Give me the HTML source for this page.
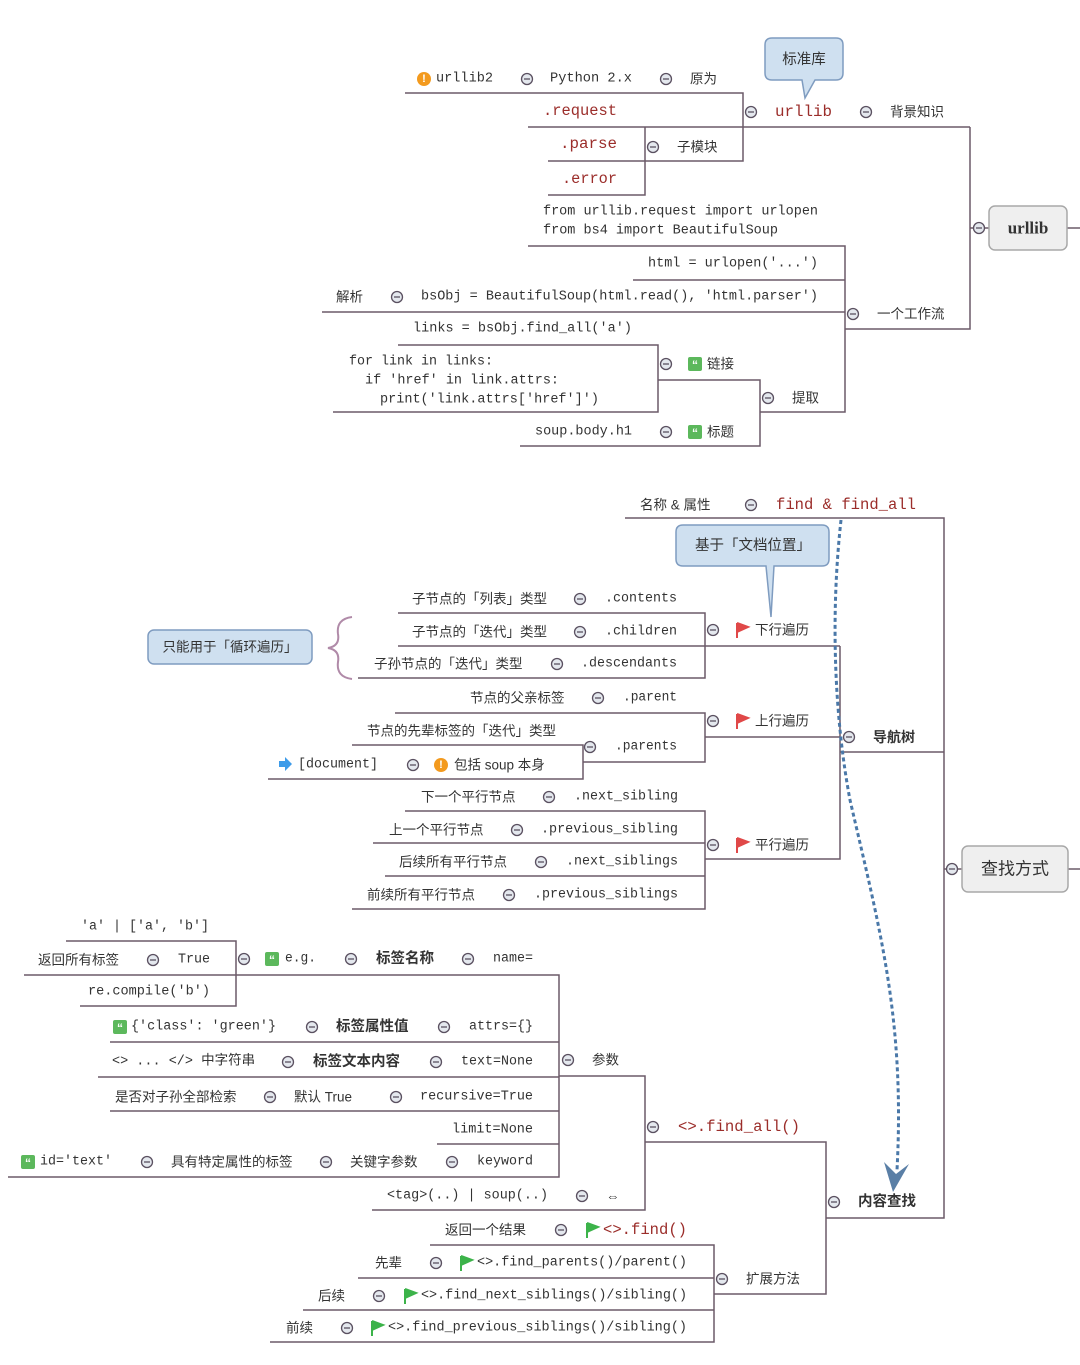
<!DOCTYPE html>
<html><head><meta charset="utf-8"><style>
html,body{margin:0;padding:0;background:#fff;}
svg{display:block}
text{font-family:"Liberation Sans","Noto Sans CJK SC",sans-serif;font-size:13.5px;fill:#333;dominant-baseline:central}
.m{font-family:"Liberation Mono","Noto Sans CJK SC",monospace;font-size:13.5px}
.r{font-family:"Liberation Mono",monospace;font-size:15.5px;fill:#9b2d2a}
.b{font-weight:bold;font-size:14.5px}
.ln{fill:none;stroke:#6b5a68;stroke-width:1.5}
</style></head><body>
<svg width="1080" height="1365" viewBox="0 0 1080 1365" xmlns="http://www.w3.org/2000/svg">
<defs>
<g id="c"><circle r="5.5" fill="#e4e8ee" stroke="#5a5060" stroke-width="1.3"/><line x1="-3" x2="3" y1="0" y2="0" stroke="#5a5060" stroke-width="1.3"/></g>
<g id="q"><rect x="-7" y="-7" width="14" height="14" rx="2" fill="#5cb85c"/><text x="0" y="1" text-anchor="middle" style="fill:#fff;font-size:12px;font-weight:bold">“</text></g>
<g id="fr"><path d="M-5,-7 L-5,8 M-5,-7 L6,-3 L-5,2" fill="#e04848" stroke="#e04848" stroke-width="2"/></g>
<g id="fg"><path d="M-5,-7 L-5,8 M-5,-7 L6,-3 L-5,2" fill="#3cb34a" stroke="#3cb34a" stroke-width="2"/></g>
<g id="ex"><circle r="7" fill="#f39a1e"/><text x="0" y="0" text-anchor="middle" style="fill:#fff;font-size:11px;font-weight:bold">!</text></g>
</defs>

<!-- lines top -->
<g class="ln">
<polyline points="405,93 743,93 743,161 645,161"/>
<line x1="528" y1="127" x2="970" y2="127"/>
<polyline points="548,161 645,161"/>
<polyline points="645,127 645,195 548,195"/>
<polyline points="970,127 970,329 845,329"/>
<line x1="970" y1="228" x2="989" y2="228"/>
<line x1="1067" y1="228" x2="1080" y2="228"/>
<polyline points="528,246 845,246 845,412 760,412"/>
<line x1="633" y1="280" x2="845" y2="280"/>
<line x1="322" y1="312" x2="845" y2="312"/>
<polyline points="398,345 658,345 658,412 333,412"/>
<polyline points="658,380 760,380 760,446 520,446"/>
<!-- middle -->
<polyline points="625,518 944,518 944,1218 826,1218"/>
<line x1="944" y1="869" x2="962" y2="869"/>
<line x1="1068" y1="869" x2="1080" y2="869"/>
<polyline points="398,613 705,613 705,678 358,678"/>
<line x1="398" y1="646" x2="840" y2="646"/>
<polyline points="840,646 840,859 705,859"/>
<line x1="840" y1="752" x2="944" y2="752"/>
<polyline points="395,713 705,713 705,762 583,762"/>
<line x1="705" y1="737" x2="840" y2="737"/>
<polyline points="352,745 583,745 583,779 268,779"/>
<polyline points="405,811 705,811 705,909 352,909"/>
<line x1="373" y1="843" x2="705" y2="843"/>
<line x1="385" y1="876" x2="705" y2="876"/>
<!-- bottom -->
<polyline points="66,941 236,941 236,1006 80,1006"/>
<polyline points="24,975 559,975 559,1177 8,1177"/>
<line x1="110" y1="1042" x2="559" y2="1042"/>
<line x1="98" y1="1077" x2="559" y2="1077"/>
<line x1="110" y1="1111" x2="559" y2="1111"/>
<line x1="437" y1="1144" x2="559" y2="1144"/>
<polyline points="559,1076 645,1076 645,1210 372,1210"/>
<polyline points="645,1142 826,1142 826,1294 714,1294"/>
<polyline points="430,1245 714,1245 714,1342 270,1342"/>
<line x1="358" y1="1278" x2="714" y2="1278"/>
<line x1="303" y1="1310" x2="714" y2="1310"/>
</g>

<!-- dotted arrow -->
<path d="M841,520 C830,620 835,720 850,800 C880,930 905,1020 897,1170" fill="none" stroke="#4a78a8" stroke-width="3" stroke-dasharray="4,3"/>
<path d="M884,1162 L893,1192 L909,1164 L896,1174 Z" fill="#5a7fa6"/>

<!-- callouts -->
<path d="M772,38 H836 Q843,38 843,45 V73 Q843,80 836,80 H815 L805,98 L802,80 H772 Q765,80 765,73 V45 Q765,38 772,38 Z" fill="#cfe0f0" stroke="#7f9cc0" stroke-width="1.5"/>
<text x="804" y="60" text-anchor="middle" style="font-size:14.5px">标准库</text>
<path d="M683,525 H822 Q829,525 829,532 V559 Q829,566 822,566 H774 L771,617 L766,566 H683 Q676,566 676,559 V532 Q676,525 683,525 Z" fill="#cfe0f0" stroke="#7f9cc0" stroke-width="1.5"/>
<text x="753" y="546" text-anchor="middle" style="font-size:14.5px">基于「文档位置」</text>
<rect x="148" y="630" width="164" height="34" rx="6" fill="#cfe0f0" stroke="#7f9cc0" stroke-width="1.5"/>
<text x="230" y="647" text-anchor="middle" style="font-size:13.5px">只能用于「循环遍历」</text>
<path d="M352,617 Q336,619 338,634 Q340,646 328,648 Q340,650 338,662 Q336,677 352,679" fill="none" stroke="#b08aa8" stroke-width="2"/>
<!-- boxes -->
<rect x="989" y="206" width="78" height="44" rx="6" fill="#efefef" stroke="#a8a8a8" stroke-width="1.5"/>
<text x="1028" y="228" text-anchor="middle" style="font-family:'Liberation Serif',serif;font-weight:bold;font-size:17px">urllib</text>
<rect x="962" y="846" width="106" height="46" rx="6" fill="#efefef" stroke="#a8a8a8" stroke-width="1.5"/>
<text x="1015" y="869" text-anchor="middle" style="font-size:17px">查找方式</text>

<!-- top texts -->
<use href="#ex" x="424" y="79"/>
<text class="m" x="436" y="79" textLength="57" lengthAdjust="spacingAndGlyphs">urllib2</text>
<use href="#c" x="527" y="79"/>
<text class="m" x="550" y="79" textLength="82" lengthAdjust="spacingAndGlyphs">Python 2.x</text>
<use href="#c" x="666" y="79"/>
<text x="690" y="79">原为</text>
<text class="r" x="543" y="111" textLength="74" lengthAdjust="spacingAndGlyphs">.request</text>
<text class="r" x="560" y="144" textLength="57" lengthAdjust="spacingAndGlyphs">.parse</text>
<text class="r" x="562" y="179" textLength="55" lengthAdjust="spacingAndGlyphs">.error</text>
<use href="#c" x="653" y="147"/>
<text x="677" y="147">子模块</text>
<use href="#c" x="751" y="112"/>
<text class="r" x="775" y="112" textLength="57" lengthAdjust="spacingAndGlyphs">urllib</text>
<use href="#c" x="866" y="112"/>
<text x="890" y="112">背景知识</text>
<use href="#c" x="979" y="228"/>
<text class="m" x="543" y="212" textLength="275" lengthAdjust="spacingAndGlyphs">from urllib.request import urlopen</text>
<text class="m" x="543" y="231" textLength="235" lengthAdjust="spacingAndGlyphs">from bs4 import BeautifulSoup</text>
<text class="m" x="648" y="264" textLength="170" lengthAdjust="spacingAndGlyphs">html = urlopen('...')</text>
<text x="336" y="297">解析</text>
<use href="#c" x="397" y="297"/>
<text class="m" x="421" y="297" textLength="397" lengthAdjust="spacingAndGlyphs">bsObj = BeautifulSoup(html.read(), 'html.parser')</text>
<use href="#c" x="853" y="314"/>
<text x="877" y="314">一个工作流</text>
<text class="m" x="413" y="329" textLength="219" lengthAdjust="spacingAndGlyphs">links = bsObj.find_all('a')</text>
<text class="m" x="349" y="362" textLength="144" lengthAdjust="spacingAndGlyphs">for link in links:</text>
<text class="m" x="365" y="381" textLength="194" lengthAdjust="spacingAndGlyphs">if 'href' in link.attrs:</text>
<text class="m" x="380" y="400" textLength="219" lengthAdjust="spacingAndGlyphs">print('link.attrs['href']')</text>
<use href="#c" x="666" y="364"/>
<use href="#q" x="695" y="364"/>
<text x="707" y="364">链接</text>
<use href="#c" x="768" y="398"/>
<text x="792" y="398">提取</text>
<text class="m" x="535" y="432" textLength="97" lengthAdjust="spacingAndGlyphs">soup.body.h1</text>
<use href="#c" x="666" y="432"/>
<use href="#q" x="695" y="432"/>
<text x="707" y="432">标题</text>

<!-- middle texts -->
<text x="640" y="505">名称 &amp; 属性</text>
<use href="#c" x="751" y="505"/>
<text class="r" x="776" y="505" textLength="140" lengthAdjust="spacingAndGlyphs">find &amp; find_all</text>
<use href="#c" x="952" y="869"/>
<text x="412" y="599">子节点的「列表」类型</text>
<use href="#c" x="580" y="599"/>
<text class="m" x="605" y="599" textLength="72" lengthAdjust="spacingAndGlyphs">.contents</text>
<text x="412" y="632">子节点的「迭代」类型</text>
<use href="#c" x="580" y="632"/>
<text class="m" x="605" y="632" textLength="72" lengthAdjust="spacingAndGlyphs">.children</text>
<text x="374" y="664">子孙节点的「迭代」类型</text>
<use href="#c" x="557" y="664"/>
<text class="m" x="581" y="664" textLength="96" lengthAdjust="spacingAndGlyphs">.descendants</text>
<use href="#c" x="713" y="630"/>
<use href="#fr" x="742" y="630"/>
<text x="755" y="630">下行遍历</text>
<use href="#c" x="849" y="737"/>
<text x="873" y="737" class="b" style="font-size:14px">导航树</text>
<text x="470" y="698">节点的父亲标签</text>
<use href="#c" x="598" y="698"/>
<text class="m" x="623" y="698" textLength="54" lengthAdjust="spacingAndGlyphs">.parent</text>
<use href="#c" x="713" y="721"/>
<use href="#fr" x="742" y="721"/>
<text x="755" y="721">上行遍历</text>
<text x="367" y="731">节点的先辈标签的「迭代」类型</text>
<use href="#c" x="590" y="747"/>
<text class="m" x="615" y="747" textLength="62" lengthAdjust="spacingAndGlyphs">.parents</text>
<path d="M279,761 h6 v-4 l7,7 l-7,7 v-4 h-6 z" fill="#3d9be9"/>
<text class="m" x="298" y="765" textLength="80" lengthAdjust="spacingAndGlyphs">[document]</text>
<use href="#c" x="413" y="765"/>
<use href="#ex" x="441" y="765"/>
<text x="454" y="765">包括 soup 本身</text>
<text x="421" y="797">下一个平行节点</text>
<use href="#c" x="549" y="797"/>
<text class="m" x="574" y="797" textLength="104" lengthAdjust="spacingAndGlyphs">.next_sibling</text>
<text x="389" y="830">上一个平行节点</text>
<use href="#c" x="517" y="830"/>
<text class="m" x="541" y="830" textLength="137" lengthAdjust="spacingAndGlyphs">.previous_sibling</text>
<use href="#c" x="713" y="845"/>
<use href="#fr" x="742" y="845"/>
<text x="755" y="845">平行遍历</text>
<text x="399" y="862">后续所有平行节点</text>
<use href="#c" x="541" y="862"/>
<text class="m" x="566" y="862" textLength="112" lengthAdjust="spacingAndGlyphs">.next_siblings</text>
<text x="367" y="895">前续所有平行节点</text>
<use href="#c" x="509" y="895"/>
<text class="m" x="534" y="895" textLength="144" lengthAdjust="spacingAndGlyphs">.previous_siblings</text>

<!-- bottom texts -->
<text class="m" x="81" y="927" textLength="128" lengthAdjust="spacingAndGlyphs">'a' | ['a', 'b']</text>
<text x="38" y="960">返回所有标签</text>
<use href="#c" x="153" y="960"/>
<text class="m" x="178" y="960" textLength="32" lengthAdjust="spacingAndGlyphs">True</text>
<text class="m" x="88" y="992" textLength="122" lengthAdjust="spacingAndGlyphs">re.compile('b')</text>
<use href="#c" x="244" y="959"/>
<use href="#q" x="272" y="959"/>
<text class="m" x="285" y="959" textLength="31" lengthAdjust="spacingAndGlyphs">e.g.</text>
<use href="#c" x="351" y="959"/>
<text class="b" x="376" y="959">标签名称</text>
<use href="#c" x="468" y="959"/>
<text class="m" x="493" y="959" textLength="40" lengthAdjust="spacingAndGlyphs">name=</text>
<use href="#q" x="120" y="1027"/>
<text class="m" x="131" y="1027" textLength="145" lengthAdjust="spacingAndGlyphs">{'class': 'green'}</text>
<use href="#c" x="312" y="1027"/>
<text class="b" x="336" y="1027">标签属性值</text>
<use href="#c" x="444" y="1027"/>
<text class="m" x="469" y="1027" textLength="64" lengthAdjust="spacingAndGlyphs">attrs={}</text>
<text class="m" x="112" y="1062">&lt;&gt; ... &lt;/&gt; 中字符串</text>
<use href="#c" x="288" y="1062"/>
<text class="b" x="313" y="1062">标签文本内容</text>
<use href="#c" x="436" y="1062"/>
<text class="m" x="461" y="1062" textLength="72" lengthAdjust="spacingAndGlyphs">text=None</text>
<use href="#c" x="568" y="1060"/>
<text x="592" y="1060">参数</text>
<text x="115" y="1097">是否对子孙全部检索</text>
<use href="#c" x="270" y="1097"/>
<text x="294" y="1097">默认 True</text>
<use href="#c" x="396" y="1097"/>
<text class="m" x="420" y="1097" textLength="113" lengthAdjust="spacingAndGlyphs">recursive=True</text>
<text class="m" x="452" y="1130" textLength="81" lengthAdjust="spacingAndGlyphs">limit=None</text>
<use href="#c" x="653" y="1127"/>
<text class="r" x="678" y="1127" textLength="122" lengthAdjust="spacingAndGlyphs">&lt;&gt;.find_all()</text>
<use href="#q" x="28" y="1162"/>
<text class="m" x="40" y="1162" textLength="72" lengthAdjust="spacingAndGlyphs">id='text'</text>
<use href="#c" x="147" y="1162"/>
<text x="171" y="1162">具有特定属性的标签</text>
<use href="#c" x="326" y="1162"/>
<text x="350" y="1162">关键字参数</text>
<use href="#c" x="452" y="1162"/>
<text class="m" x="477" y="1162" textLength="56" lengthAdjust="spacingAndGlyphs">keyword</text>
<text class="m" x="387" y="1196" textLength="161" lengthAdjust="spacingAndGlyphs">&lt;tag&gt;(..) | soup(..)</text>
<use href="#c" x="582" y="1196"/>
<text x="606" y="1196">⇔</text>
<use href="#c" x="834" y="1202"/>
<text class="b" x="858" y="1202">内容查找</text>
<text x="445" y="1230">返回一个结果</text>
<use href="#c" x="561" y="1230"/>
<use href="#fg" x="592" y="1230"/>
<text class="r" x="603" y="1230" textLength="84" lengthAdjust="spacingAndGlyphs">&lt;&gt;.find()</text>
<text x="375" y="1263">先辈</text>
<use href="#c" x="436" y="1263"/>
<use href="#fg" x="466" y="1263"/>
<text class="m" x="477" y="1263" textLength="210" lengthAdjust="spacingAndGlyphs">&lt;&gt;.find_parents()/parent()</text>
<use href="#c" x="722" y="1279"/>
<text x="746" y="1279">扩展方法</text>
<text x="318" y="1296">后续</text>
<use href="#c" x="379" y="1296"/>
<use href="#fg" x="410" y="1296"/>
<text class="m" x="421" y="1296" textLength="266" lengthAdjust="spacingAndGlyphs">&lt;&gt;.find_next_siblings()/sibling()</text>
<text x="286" y="1328">前续</text>
<use href="#c" x="347" y="1328"/>
<use href="#fg" x="377" y="1328"/>
<text class="m" x="388" y="1328" textLength="299" lengthAdjust="spacingAndGlyphs">&lt;&gt;.find_previous_siblings()/sibling()</text>
</svg>
</body></html>
